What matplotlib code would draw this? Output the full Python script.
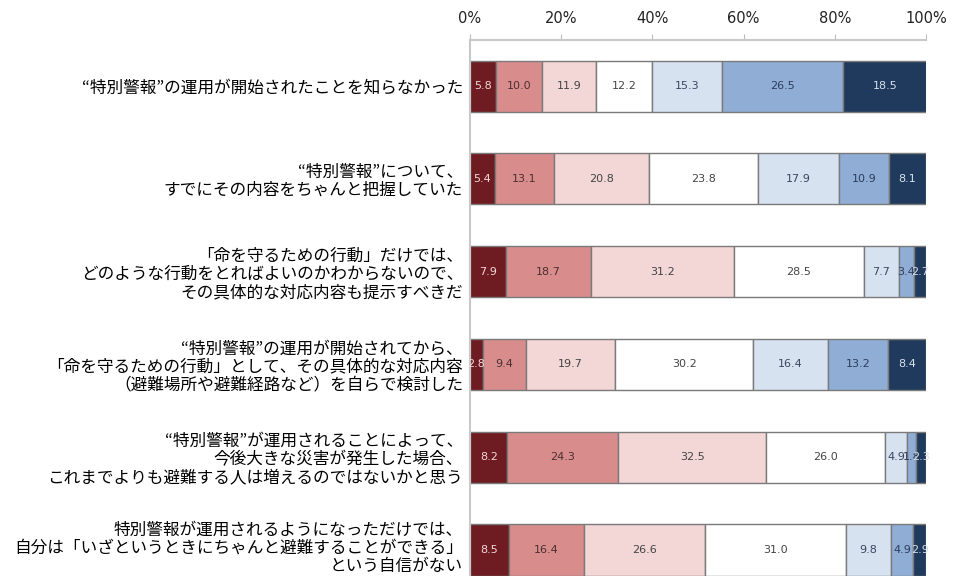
import numpy as np
import matplotlib
matplotlib.use("Agg")
import matplotlib.pyplot as plt
from matplotlib.transforms import ScaledTranslation

plt.rcParams['font.family'] = ['Noto Sans CJK JP', 'DejaVu Sans']

questions = [
    "“特別警報”の運用が開始されたことを知らなかった",
    "“特別警報”について、\nすでにその内容をちゃんと把握していた",
    "「命を守るための行動」だけでは、\nどのような行動をとればよいのかわからないので、\nその具体的な対応内容も提示すべきだ",
    "“特別警報”の運用が開始されてから、\n「命を守るための行動」として、その具体的な対応内容\n（避難場所や避難経路など）を自らで検討した",
    "“特別警報”が運用されることによって、\n今後大きな災害が発生した場合、\nこれまでよりも避難する人は増えるのではないかと思う",
    "特別警報が運用されるようになっただけでは、\n自分は「いざというときにちゃんと避難することができる」\nという自信がない",
]

# answer shares (%) per question, from "strongly agree" to "strongly disagree"
s1 = [5.8, 5.4, 7.9, 2.8, 8.2, 8.5]
s2 = [10.0, 13.1, 18.7, 9.4, 24.3, 16.4]
s3 = [11.9, 20.8, 31.2, 19.7, 32.5, 26.6]
s4 = [12.2, 23.8, 28.5, 30.2, 26.0, 31.0]
s5 = [15.3, 17.9, 7.7, 16.4, 4.9, 9.8]
s6 = [26.5, 10.9, 3.4, 13.2, 1.8, 4.9]
s7 = [18.5, 8.1, 2.7, 8.4, 2.3, 2.9]

colors = ['#6e1c22', '#d98c8c', '#f3d6d6', '#ffffff', '#d7e2f1', '#8fadd5', '#1f3a5c']
text_colors = ['#f0d8d8', '#4a3030', '#444444', '#444444', '#3a4560', '#2e3d5c', '#d8e0ec']

fig = plt.figure(figsize=(9.55, 5.76), dpi=100)
ax = fig.add_axes([470 / 955, 0.0, 456 / 955, 1 - 40 / 576])

series = [s1, s2, s3, s4, s5, s6, s7]
y = np.arange(len(questions))
left = np.zeros(len(questions))
for vals, c, tc in zip(series, colors, text_colors):
    vals = np.array(vals)
    ax.barh(y, vals / 100, left=left / 100, height=0.55, color=c,
            edgecolor='#7a7a7a', linewidth=1.0)
    for yi, l, v in zip(y, left, vals):
        ax.text((l + v / 2) / 100, yi, f"{v:.1f}", ha='center', va='center',
                fontsize=8, color=tc, family='DejaVu Sans')
    left += vals

ax.set_xlim(0, 1)
ax.set_ylim(5.28, -0.496)
ax.set_yticks(y)
ax.set_yticklabels(questions, fontsize=12, linespacing=1.1)
ax.tick_params(axis='y', length=0, pad=5)
# lift the bottom label a little so its last line stays inside the figure
last = ax.get_yticklabels()[-1]
last.set_transform(last.get_transform() + ScaledTranslation(0, 4 / 100, fig.dpi_scale_trans))

ax.xaxis.tick_top()
ax.set_xticks(np.linspace(0, 1, 6))
ax.set_xticklabels([f"{int(v)}%" for v in np.linspace(0, 100, 6)],
                   fontsize=10.5, family='DejaVu Sans', color='#222222')
ax.tick_params(axis='x', length=4, color='#bbbbbb', pad=6)
for side in ['right', 'bottom']:
    ax.spines[side].set_visible(False)
ax.spines['top'].set_color('#c8c8c8')
ax.spines['left'].set_color('#c8c8c8')
ax.spines['top'].set_linewidth(1.5)
ax.spines['left'].set_linewidth(1.5)

fig.savefig('out.png', dpi=100)
